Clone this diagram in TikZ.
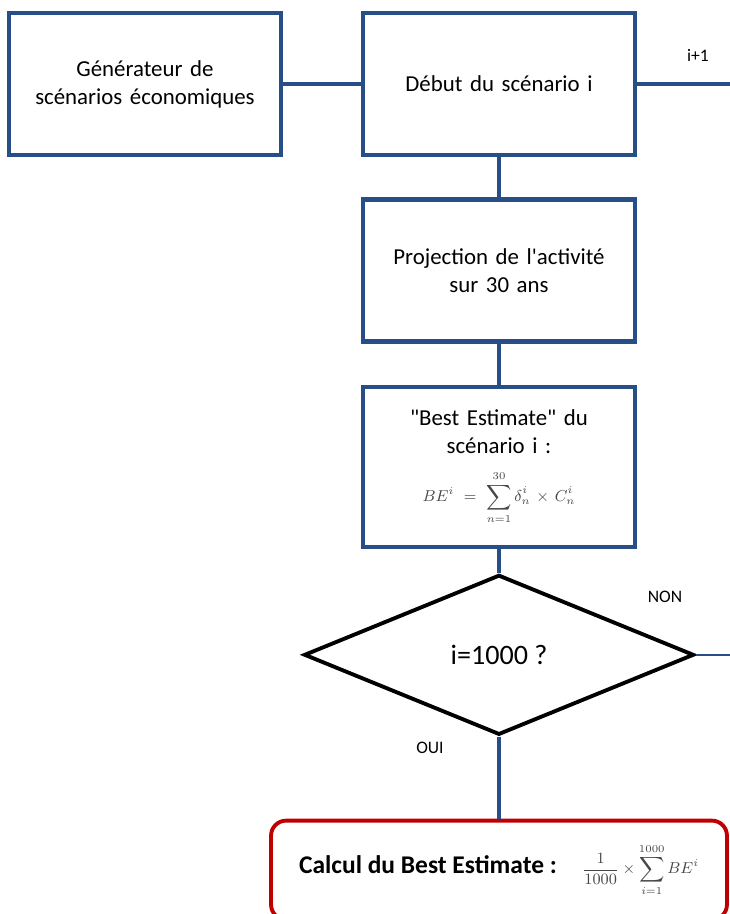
\documentclass[tikz,border=0pt]{standalone}
\usepackage{fontspec}
\setmainfont{Carlito}[Ligatures=TeXOff]
\usetikzlibrary{positioning,shapes.geometric}
\definecolor{boxblue}{RGB}{40,78,135}
\definecolor{calcred}{RGB}{192,0,0}
\definecolor{mathgray}{RGB}{70,70,70}
\begin{document}
\begin{tikzpicture}[x=0.02cm, y=-0.02cm, thick]
  \tikzset{
    stepbox/.style={draw=boxblue, line width=2.5pt, rectangle, minimum width=5.4cm, minimum height=2.84cm, align=center, text width=5.2cm, font=\fontsize{13}{16}\selectfont},
    test/.style={draw=black, line width=2.2pt, diamond, minimum width=7.8cm, minimum height=3.2cm, inner sep=0pt, font=\fontsize{16}{18}\selectfont},
    calc/.style={draw=calcred, line width=2.2pt, rectangle, rounded corners=0.3cm, minimum width=9.12cm, minimum height=1.98cm},
    link/.style={draw=boxblue, line width=2pt},
    lbl/.style={font=\fontsize{10}{12}\selectfont}
  }
  \useasboundingbox (0,0) rectangle (730,914);
  \node (D) [stepbox] at (499,84) {Début du scénario i};
  \node (G) [stepbox, left=1.56cm of D] {Générateur de\\scénarios économiques};
  \node (P) [stepbox, below=0.8cm of D] {Projection de l'activité\\sur 30 ans};
  \node (B) [stepbox, minimum height=3.2cm, below=0.82cm of P] {"Best Estimate" du\\scénario i :\\[9pt]
    {\color{mathgray}\small $BE^i=\displaystyle\sum_{n=1}^{30}\delta_n^i\times C_n^i$}};
  \node (T) [test, below=0.48cm of B] {i=1000 ?};
  \node (R) [calc, below=1.64cm of T] {\fontsize{14.5}{17}\selectfont\textbf{Calcul du Best Estimate :}\quad
    {\color{mathgray}\small $\displaystyle\frac{1}{1000}\times\sum_{i=1}^{1000}BE^i$}};
  \node (inc) [lbl] at (698,55) {i+1};
  \node (non) [lbl] at (665,597) {NON};
  \node (oui) [lbl] at (430,748) {OUI};
  \coordinate (edgeD) at (730,84);
  \coordinate (edgeT) at (730,658);
  % liaisons
  \draw[link] (G) -- (D);
  \draw[link] (D.east) -- (D.east -| edgeD);
  \draw[link] (D) -- (P);
  \draw[link] (P) -- (B);
  \draw[link] (B) -- (T);
  \draw[link, line width=1.2pt] (T.east) -- (T.east -| edgeT);
  \draw[link] (T) -- (R);
\end{tikzpicture}
\end{document}
